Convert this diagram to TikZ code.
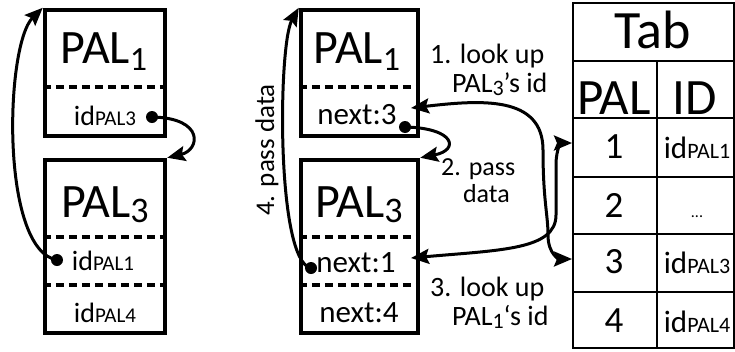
\documentclass[tikz,border=0pt]{standalone}
\usepackage{fontspec}
\setmainfont{Carlito}
\usetikzlibrary{arrows.meta}
\newcommand\fsz[1]{\fontsize{#1}{#1}\selectfont}
% lowered index: size, drop (pt), text
\newcommand\lowsub[3]{\raisebox{-#2pt}{\fsz{#1}#3}}

\begin{document}
\begin{tikzpicture}[x=1pt,y=-1pt,
  frame/.style={draw, line width=4.5pt, inner sep=0pt},
  divider/.style={line width=3.5pt, dash pattern=on 8pt off 5pt},
  grid/.style={line width=2pt},
  tip/.tip={Stealth[length=18pt,width=15pt,inset=3pt]},
  link/.style={line width=3pt, -tip},
  biglink/.style={line width=3pt, tip-tip},
  dot/.style={circle, fill, inner sep=0pt, minimum size=12pt},
  txt/.style={inner sep=0pt, anchor=base},
]
\useasboundingbox (0,0) rectangle (735,351);

% ---------- left pair: direct ids ----------
\node[frame, minimum width=120pt, minimum height=126pt] (L1) at (105,73) {};
\node[frame, minimum width=120pt, minimum height=173pt] (L3) at (105,246.5) {};
\draw[divider] (L1.west |- 0,87) -- (L1.east |- 0,87);
\draw[divider] (L3.west |- 0,237) -- (L3.east |- 0,237);
\draw[divider] (L3.west |- 0,285) -- (L3.east |- 0,285);

\node[txt] (l1t) at (104,63) {\fsz{48}PAL\lowsub{34}{7}{1}};
\node[txt] (l1id) at (105,125) {\fsz{28}id\fsz{21}PAL3};
\node[txt] (l3t) at (105,217) {\fsz{48}PAL\lowsub{36}{5}{3}};
\node[txt] (l3a) at (103,270) {\fsz{28}id\fsz{21}PAL1};
\node[txt] (l3b) at (105,322) {\fsz{28}id\fsz{21}PAL4};

\node[dot] (dA) at (57,260) {};
\node[dot] (dB) at (152,117) {};
\draw[link] (dA.center) .. controls (0,250) and (5,45) .. (L1.north west);
\draw[link] (dB.center) .. controls (205,118) and (200,150) .. (L3.north east);

% ---------- middle pair: indices into the table ----------
\node[frame, minimum width=117pt, minimum height=126pt] (M1) at (359.5,73) {};
\node[frame, minimum width=117pt, minimum height=173pt] (M3) at (359.5,246.5) {};
\draw[divider] (M1.west |- 0,87) -- (M1.east |- 0,87);
\draw[divider] (M3.west |- 0,237) -- (M3.east |- 0,237);
\draw[divider] (M3.west |- 0,285) -- (M3.east |- 0,285);

\node[txt] (m1t) at (357,63) {\fsz{48}PAL\lowsub{34}{7}{1}};
\node[txt] (m1n) at (357,124) {\fsz{31}next:3};
\node[txt] (m3t) at (359,217) {\fsz{48}PAL\lowsub{36}{5}{3}};
\node[txt] (m3a) at (356,272) {\fsz{31}next:1};
\node[txt] (m3b) at (359,322) {\fsz{31}next:4};

\node[dot] (dM) at (311,268) {};
\node[dot] (dN) at (405,127) {};

% ---------- table ----------
\node[draw, grid, inner sep=0pt, minimum width=161pt, minimum height=345pt] (T) at (653.5,175.5) {};
\foreach \yy in {61,118,177,234,292}
  \draw[grid] (T.west |- 0,\yy) -- (T.east |- 0,\yy);
\draw[grid] (657,61) -- (657,348);

\node[txt] (tab) at (653,48) {\fsz{54}Tab};
\node[txt] (hpal) at (614,114) {\fsz{51}PAL};
\node[txt] (hid) at (695,114) {\fsz{51}ID};
\node[txt] (r1) at (614,158) {\fsz{37}1};
\node[txt] (r2) at (614,217) {\fsz{37}2};
\node[txt] (r3) at (614,273) {\fsz{37}3};
\node[txt] (r4) at (614,332) {\fsz{37}4};
\node[txt] (v1) at (697,158) {\fsz{31}id\fsz{22}PAL1};
\node[txt] (v2) at (697,217) {\fsz{16}...};
\node[txt] (v3) at (697,273) {\fsz{31}id\fsz{22}PAL3};
\node[txt] (v4) at (697,332) {\fsz{31}id\fsz{22}PAL4};

% ---------- step labels ----------
\node[txt, anchor=base west] (s1a) at (430,63) {\fsz{28}1. look up};
\node[txt, anchor=base west] (s1b) at (452,92) {\fsz{28}PAL\lowsub{22}{3}{3}’s id};
\node[txt, anchor=base west] (s2a) at (441,175) {\fsz{26}2. pass};
\node[txt, anchor=base east] (s2b) at (510,202) {\fsz{26}data};
\node[txt, anchor=base west] (s3a) at (430,296) {\fsz{28}3. look up};
\node[txt, anchor=base west] (s3b) at (452,325) {\fsz{28}PAL\lowsub{22}{3}{1}‘s id};
\node[txt, rotate=90] (s4) at (274,150) {\fsz{27}4. pass data};

% ---------- connectors ----------
\coordinate (n3in) at (411,108);
\coordinate (n1in) at (411,258);
\coordinate (t3) at (T.west |- 0,259);
\coordinate (t1) at (T.west |- 0,143);

\draw[link] (dM.center) .. controls (276,262) and (278,45) .. (M1.north west);
\draw[link] (dN.center) .. controls (455,128) and (460,150) .. (M3.north east);
\draw[biglink] (n3in) .. controls (480,100) and (543,95) .. (543,150)
  .. controls (543,200) and (548,215) .. (548,235)
  .. controls (548,255) and (560,259) .. (t3);
\draw[biglink] (n1in) .. controls (500,250) and (556,250) .. (556,215)
  -- (556,165) .. controls (556,148) and (562,143) .. (t1);
\end{tikzpicture}
\end{document}
